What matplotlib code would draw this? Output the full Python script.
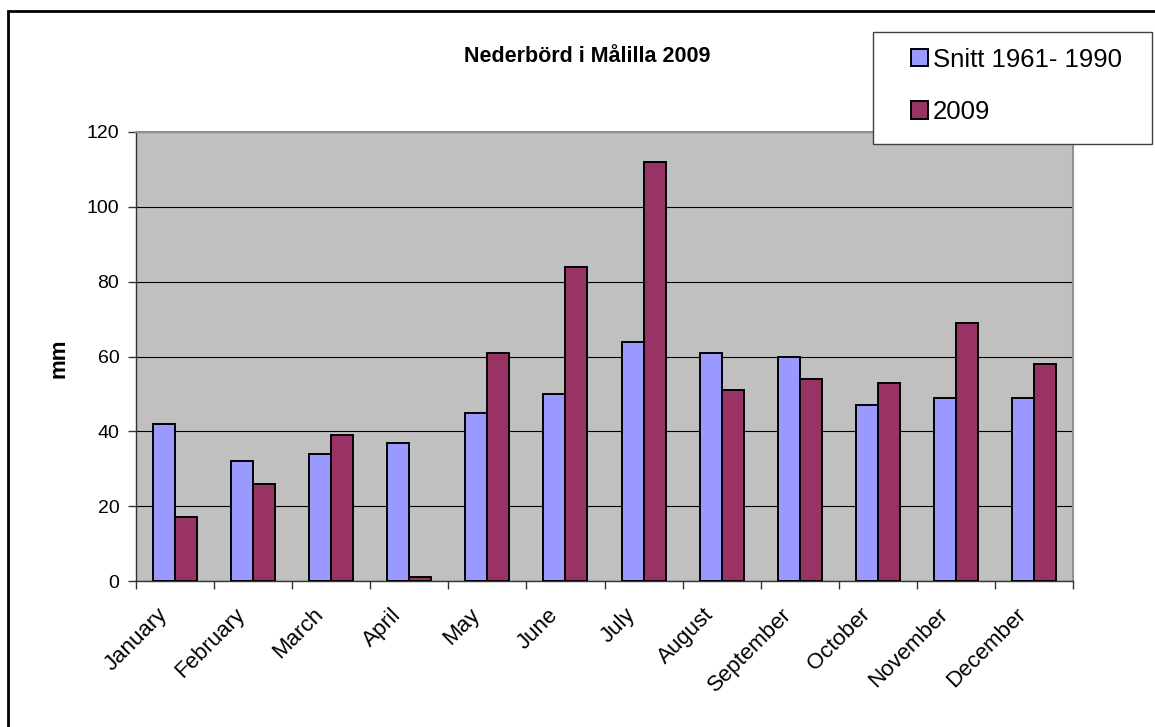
import matplotlib
matplotlib.use("Agg")
import matplotlib.pyplot as plt
import matplotlib.transforms as mtransforms
import numpy as np
from matplotlib.patches import Rectangle

#DATOS

months = ["January", "February", "March", "April", "May", "June", "July",
          "August", "September", "October", "November", "December"]
normal_1961_1990 = [42, 32, 34, 37, 45, 50, 64, 61, 60, 47, 49, 49]
rain_2009 = [17, 26, 39, 1, 61, 84, 112, 51, 54, 53, 69, 58]
legend_labels = ["Snitt 1961- 1990", "2009"]
y_ticks = [0, 20, 40, 60, 80, 100, 120]

#ESTILO

plt.rcParams["font.family"] = ["Liberation Sans", "DejaVu Sans"]
BLUE = "#9999FF"
PLUM = "#993366"
PLOT_BG = "#C0C0C0"

W, H = 1155, 727
fig = plt.figure(figsize=(W / 100, H / 100), dpi=100)
fig.patch.set_facecolor("white")

#marco exterior del grafico (cortado por la derecha y abajo)
fig.patches.append(Rectangle((8 / W, -0.1), 1.2, (H - 11) / H + 0.1,
                             transform=fig.transFigure, fill=False,
                             edgecolor="black", linewidth=2.0))

ax = fig.add_axes([136 / W, 1 - 581 / H, (1073 - 136) / W, (581 - 132) / H])
ax.set_facecolor(PLOT_BG)

x = np.arange(len(months))
bw = 0.282
b1 = ax.bar(x - bw / 2, normal_1961_1990, bw, color=BLUE, edgecolor="black",
            linewidth=1.4, zorder=3)
b2 = ax.bar(x + bw / 2, rain_2009, bw, color=PLUM, edgecolor="black",
            linewidth=1.4, zorder=3)

ax.set_xlim(-0.5, len(months) - 0.5)
ax.set_ylim(0, 120)
ax.set_yticks(y_ticks)
ax.yaxis.grid(True, color="black", linewidth=0.8, zorder=1)
ax.set_axisbelow(True)

#ticks de categorias en los limites entre meses
ax.set_xticks(x)
ax.set_xticklabels(months, rotation=45, ha="right", va="center",
                   rotation_mode="anchor", fontsize=16)
ax.tick_params(axis="x", which="major", length=0, pad=22)
shift = mtransforms.ScaledTranslation(-11 / 100, 0, fig.dpi_scale_trans)
for lab in ax.get_xticklabels():
    lab.set_transform(lab.get_transform() + shift)
ax.set_xticks(np.arange(len(months) + 1) - 0.5, minor=True)
ax.tick_params(axis="x", which="minor", length=6, width=1, color="#333333",
               direction="out")
ax.tick_params(axis="y", length=6, width=1, color="#333333", pad=6,
               labelsize=14, direction="out")

for side in ["left", "bottom"]:
    ax.spines[side].set_color("#333333")
    ax.spines[side].set_linewidth(1.0)
for side in ["top", "right"]:
    ax.spines[side].set_color("#909090")
    ax.spines[side].set_linewidth(1.5)

fig.text(587 / W, 1 - 57 / H, "Nederbörd i Målilla 2009", ha="center",
         va="center", fontsize=15.5, fontweight="bold")
fig.text(59 / W, 1 - 358 / H, "mm", rotation=90, ha="center", va="center",
         fontsize=16, fontweight="bold")

#caja de la leyenda
fig.patches.append(Rectangle((873 / W, 1 - 144 / H), (1152 - 873) / W,
                             (144 - 32) / H, transform=fig.transFigure,
                             facecolor="white", edgecolor="#404040",
                             linewidth=1.0, zorder=5))
leg = fig.legend([b1, b2], legend_labels, loc="upper left",
                 bbox_to_anchor=(890 / W, 1 - 27 / H), frameon=False,
                 fontsize=18.5, handlelength=0.68, handleheight=0.68,
                 handletextpad=0.2, labelspacing=1.1, borderpad=0.3)
leg.set_zorder(6)

fig.savefig("out.png", dpi=100)
